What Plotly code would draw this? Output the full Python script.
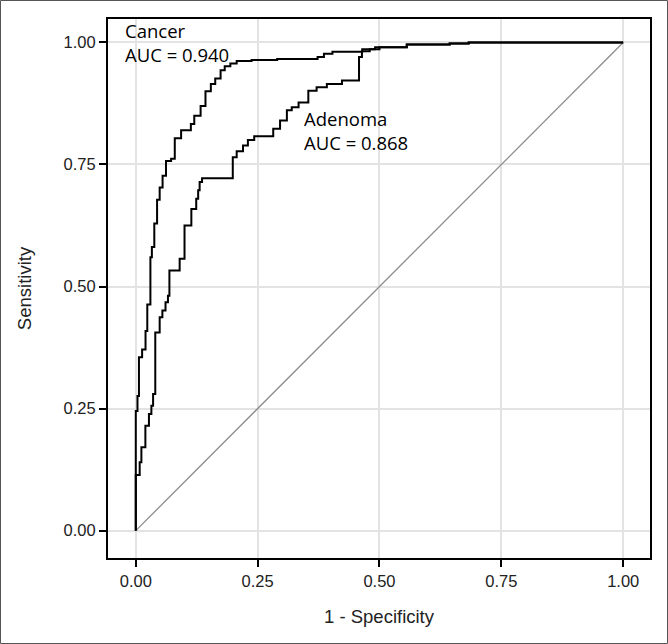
import plotly.graph_objects as go

# ROC step vertices (1 - specificity, sensitivity); drawn with 'hv' steps
cancer_fpr = [0, 0, 0.0035, 0.0065, 0.013, 0.020, 0.0236, 0.030, 0.033, 0.038, 0.0437, 0.049,
              0.055, 0.062, 0.0725, 0.080, 0.093, 0.113, 0.120, 0.133, 0.143, 0.154, 0.163,
              0.174, 0.1825, 0.194, 0.207, 0.2376, 0.290, 0.373, 0.386, 0.4035, 0.4646,
              0.491, 0.556, 0.644, 0.683, 1.0]
cancer_tpr = [0, 0.245, 0.276, 0.355, 0.371, 0.409, 0.463, 0.560, 0.581, 0.629, 0.678, 0.703,
              0.727, 0.757, 0.762, 0.804, 0.820, 0.833, 0.850, 0.870, 0.900, 0.915, 0.926,
              0.943, 0.951, 0.957, 0.962, 0.964, 0.966, 0.970, 0.977, 0.981, 0.986,
              0.990, 0.996, 0.998, 1.0, 1.0]

adenoma_fpr = [0, 0, 0.008, 0.0115, 0.0197, 0.027, 0.032, 0.0355, 0.040, 0.049, 0.0546, 0.061,
               0.066, 0.069, 0.090, 0.100, 0.114, 0.124, 0.128, 0.131, 0.136, 0.199, 0.207,
               0.220, 0.230, 0.243, 0.282, 0.296, 0.310, 0.320, 0.334, 0.354, 0.371, 0.392,
               0.423, 0.458, 0.464, 0.480, 0.500, 0.556, 0.644, 0.683, 1.0]
adenoma_tpr = [0, 0.114, 0.140, 0.171, 0.215, 0.239, 0.256, 0.280, 0.406, 0.437, 0.451, 0.468,
               0.481, 0.533, 0.557, 0.625, 0.659, 0.680, 0.697, 0.714, 0.722, 0.765, 0.777,
               0.789, 0.800, 0.808, 0.823, 0.840, 0.861, 0.867, 0.877, 0.901, 0.908, 0.915,
               0.922, 0.970, 0.982, 0.986, 0.990, 0.996, 0.998, 1.0, 1.0]

ref_x = [0, 1]
ref_y = [0, 1]

labels = [
    ("Cancer", -0.026, 1.024),
    ("AUC = 0.940", -0.026, 0.976),
    ("Adenoma", 0.342, 0.845),
    ("AUC = 0.868", 0.342, 0.795),
]

tick_vals = [0, 0.25, 0.5, 0.75, 1.0]
tick_text = ["0.00", "0.25", "0.50", "0.75", "1.00"]

W, H = 668, 644
ML, MR, MT, MB = 108, 18, 19, 86

fig = go.Figure()
fig.add_trace(go.Scatter(x=ref_x, y=ref_y, mode="lines",
                         line=dict(color="#8c8c8c", width=1.3), showlegend=False))
fig.add_trace(go.Scatter(x=adenoma_fpr, y=adenoma_tpr, mode="lines", line_shape="hv",
                         line=dict(color="black", width=2), showlegend=False))
fig.add_trace(go.Scatter(x=cancer_fpr, y=cancer_tpr, mode="lines", line_shape="hv",
                         line=dict(color="black", width=2), showlegend=False))

for txt, x, y in labels:
    fig.add_annotation(x=x, y=y, xref="x", yref="y", text=txt, showarrow=False,
                       xanchor="left", yanchor="middle",
                       font=dict(family="Open Sans", size=18.5, color="black"))

pw = W - ML - MR
ph = H - MT - MB
fig.add_shape(type="rect", xref="paper", yref="paper",
              x0=-ML / pw + 0.5 / pw, x1=1 + MR / pw - 0.5 / pw,
              y0=-MB / ph + 0.5 / ph, y1=1 + MT / ph - 0.5 / ph,
              line=dict(color="#555555", width=1), layer="below")

axis_common = dict(
    tickvals=tick_vals, ticktext=tick_text,
    showgrid=True, gridcolor="#e3e3e3", gridwidth=1.5,
    zeroline=False, showline=True, linecolor="black", linewidth=2, mirror=True,
    ticks="outside", ticklen=7, tickwidth=2, tickcolor="black",
    tickfont=dict(family="Liberation Sans", size=16.5, color="#222222"),
)

fig.update_layout(
    width=W, height=H,
    margin=dict(l=ML, r=MR, t=MT, b=MB),
    paper_bgcolor="white", plot_bgcolor="white",
    xaxis=dict(range=[-0.057, 1.055],
               title=dict(text="1 - Specificity", standoff=21,
                          font=dict(family="Liberation Sans", size=18.5, color="#222222")),
               **axis_common),
    yaxis=dict(range=[-0.056, 1.048],
               title=dict(text="Sensitivity", standoff=27,
                          font=dict(family="Liberation Sans", size=18.5, color="#222222")),
               **axis_common),
)

fig.write_html("out.html", config={"displayModeBar": False},
               post_script="document.body.style.margin='0px';")
